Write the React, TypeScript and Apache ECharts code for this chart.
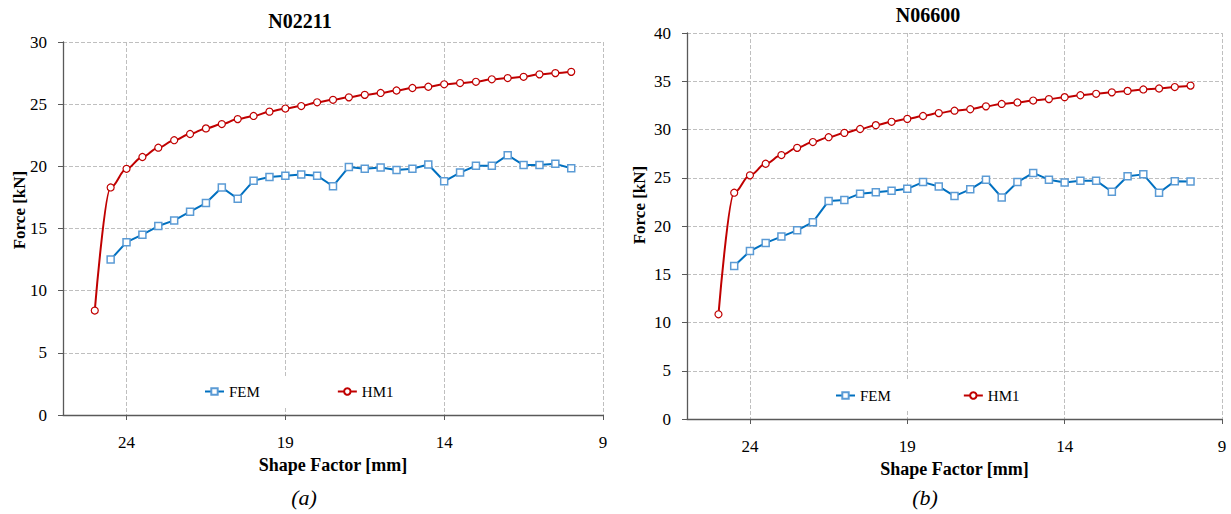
import React, { useEffect, useRef } from "react";
import * as echarts from "echarts";

const xHM1 = [25, 24.5, 24, 23.5, 23, 22.5, 22, 21.5, 21, 20.5, 20, 19.5, 19, 18.5, 18, 17.5, 17, 16.5, 16, 15.5, 15, 14.5, 14, 13.5, 13, 12.5, 12, 11.5, 11, 10.5, 10];
const xFEM = [24.5, 24, 23.5, 23, 22.5, 22, 21.5, 21, 20.5, 20, 19.5, 19, 18.5, 18, 17.5, 17, 16.5, 16, 15.5, 15, 14.5, 14, 13.5, 13, 12.5, 12, 11.5, 11, 10.5, 10];

const hm1A = [8.4, 18.3, 19.8, 20.75, 21.5, 22.1, 22.6, 23.05, 23.4, 23.8, 24.05, 24.4, 24.65, 24.85, 25.15, 25.35, 25.55, 25.75, 25.9, 26.1, 26.3, 26.4, 26.6, 26.7, 26.8, 27.0, 27.1, 27.2, 27.4, 27.5, 27.6];
const femA = [12.5, 13.9, 14.5, 15.2, 15.65, 16.35, 17.05, 18.3, 17.4, 18.85, 19.15, 19.25, 19.35, 19.25, 18.4, 19.95, 19.8, 19.9, 19.7, 19.8, 20.15, 18.8, 19.5, 20.05, 20.05, 20.9, 20.1, 20.1, 20.2, 19.85];

const hm1B = [10.85, 23.45, 25.25, 26.45, 27.35, 28.1, 28.7, 29.2, 29.65, 30.05, 30.45, 30.8, 31.1, 31.4, 31.7, 31.95, 32.1, 32.4, 32.65, 32.8, 33.0, 33.15, 33.35, 33.55, 33.7, 33.85, 34.0, 34.15, 34.25, 34.4, 34.55];
const femB = [15.85, 17.4, 18.25, 18.9, 19.55, 20.4, 22.6, 22.7, 23.35, 23.5, 23.65, 23.85, 24.55, 24.1, 23.1, 23.8, 24.8, 22.95, 24.55, 25.5, 24.8, 24.5, 24.7, 24.7, 23.55, 25.15, 25.35, 23.45, 24.65, 24.6];

const xTicks = [9, 14, 19, 24];
const titles = ["N02211", "N06600"];
const captions = ["(a)", "(b)"];
const seriesNames = ["FEM", "HM1"];
const yName = "Force [kN]";
const xName = "Shape Factor [mm]";

const FONT = "Liberation Serif";
const BLUE_LINE = "#0070C0";
const BLUE_MARK = "#5B9BD5";
const RED = "#C00000";

function pairs(xs: number[], ys: number[]) {
  return xs.map((x, i) => [x, ys[i]]);
}

export default function App() {
  const ref = useRef<HTMLDivElement>(null);
  useEffect(() => {
    if (!ref.current) return;
    const chart = echarts.init(ref.current, null, { renderer: "svg" });

    const grids = [
      { left: 63, top: 42, width: 540, height: 373 },
      { left: 687, top: 33, width: 535, height: 386 },
    ];
    const yMax = [30, 40];

    const xAxes = grids.map((_, i) => ({
      gridIndex: i,
      type: "value",
      min: 9,
      max: 26,
      inverse: true,
      name: xName,
      nameLocation: "middle",
      nameGap: 41,
      nameTextStyle: { fontFamily: FONT, fontSize: 18, fontWeight: "bold", color: "#000" },
      axisLine: { show: true, lineStyle: { color: "#595959", width: 1.3 } },
      axisTick: { show: true, length: 5, customValues: xTicks, lineStyle: { color: "#595959" } },
      axisLabel: { customValues: xTicks, fontFamily: FONT, fontSize: 17, color: "#000", margin: 19 },
      splitLine: { show: true, lineStyle: { type: "dashed", color: "#BFBFBF", width: 1 } },
    }));

    const yAxes = grids.map((_, i) => ({
      gridIndex: i,
      type: "value",
      min: 0,
      max: yMax[i],
      interval: 5,
      axisLine: { show: true, lineStyle: { color: "#595959", width: 1.3 } },
      axisTick: { show: true, length: 5, lineStyle: { color: "#595959" } },
      axisLabel: { fontFamily: FONT, fontSize: 17, color: "#000", margin: 16 },
      splitLine: { show: true, lineStyle: { type: "dashed", color: "#BFBFBF", width: 1 } },
    }));

    const datasets = [
      { fem: femA, hm1: hm1A },
      { fem: femB, hm1: hm1B },
    ];

    const series: any[] = [];
    datasets.forEach((d, i) => {
      series.push({
        name: seriesNames[0],
        type: "line",
        xAxisIndex: i,
        yAxisIndex: i,
        data: pairs(xFEM, d.fem),
        symbol: "rect",
        symbolSize: 7,
        lineStyle: { color: BLUE_LINE, width: 2 },
        itemStyle: { color: "#fff", borderColor: BLUE_MARK, borderWidth: 1.5 },
        color: BLUE_LINE,
        z: 3,
      });
      series.push({
        name: seriesNames[1],
        type: "line",
        xAxisIndex: i,
        yAxisIndex: i,
        data: pairs(xHM1, d.hm1),
        symbol: "circle",
        symbolSize: 7,
        smooth: 0.35,
        smoothMonotone: "x",
        lineStyle: { color: RED, width: 2 },
        itemStyle: { color: "#fff", borderColor: RED, borderWidth: 1.2 },
        color: RED,
        z: 4,
      });
    });

    const legendBase = {
      orient: "horizontal",
      itemWidth: 19,
      itemHeight: 8,
      backgroundColor: "#fff",
      padding: [8, 6],
      textStyle: { fontFamily: FONT, fontSize: 15, color: "#000" },
      data: seriesNames,
    };

    const graphic: any[] = [
      { type: "text", x: 300, y: 21, style: { text: titles[0], font: `bold 20px "${FONT}"`, fill: "#000", textAlign: "center", textVerticalAlign: "middle" } },
      { type: "text", x: 928, y: 15, style: { text: titles[1], font: `bold 20px "${FONT}"`, fill: "#000", textAlign: "center", textVerticalAlign: "middle" } },
      { type: "text", x: 19, y: 210, rotation: Math.PI / 2, style: { text: yName, font: `bold 17px "${FONT}"`, fill: "#000", textAlign: "center", textVerticalAlign: "middle" } },
      { type: "text", x: 639, y: 205, rotation: Math.PI / 2, style: { text: yName, font: `bold 17px "${FONT}"`, fill: "#000", textAlign: "center", textVerticalAlign: "middle" } },
      { type: "text", x: 304, y: 497, style: { text: captions[0], font: `italic 22px "${FONT}"`, fill: "#000", textAlign: "center", textVerticalAlign: "middle" } },
      { type: "text", x: 925, y: 497, style: { text: captions[1], font: `italic 22px "${FONT}"`, fill: "#000", textAlign: "center", textVerticalAlign: "middle" } },
    ];

    chart.setOption({
      animation: false,
      backgroundColor: "#fff",
      grid: grids,
      xAxis: xAxes,
      yAxis: yAxes,
      legend: [
        { ...legendBase, left: 198, top: 376, itemGap: 77 },
        { ...legendBase, left: 829, top: 380, itemGap: 72 },
      ],
      series,
      graphic,
    });

    return () => chart.dispose();
  }, []);

  return <div ref={ref} style={{ position: "fixed", left: 0, top: 0, width: 1231, height: 514 }} />;
}
